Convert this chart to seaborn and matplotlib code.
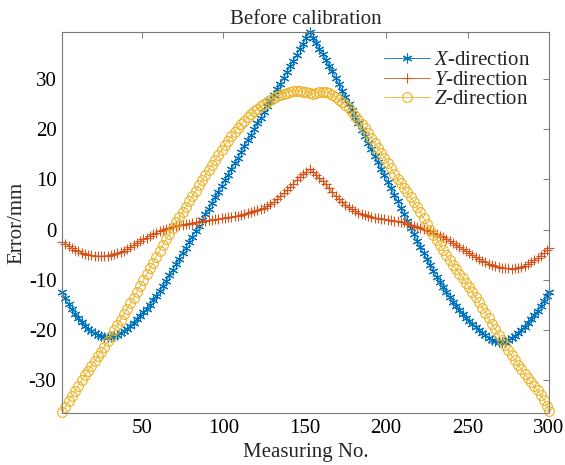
import numpy as np
import pandas as pd
import matplotlib
matplotlib.use("Agg")
import matplotlib.pyplot as plt
import seaborn as sns

# ---- data ----
measuring_no = np.append(np.arange(1, 300, 2), 300)

x_error = [
    -12.5, -13.7, -14.9, -15.9, -16.9, -17.7, -18.5, -19.2, -19.8, -20.3,
    -20.7, -21.0, -21.2, -21.35, -21.4, -21.35, -21.2, -21.0, -20.7, -20.3,
    -19.8, -19.2, -18.6, -17.9, -17.2, -16.5, -15.8, -15.0, -14.1, -13.2,
    -12.2, -11.2, -10.2, -9.1, -8.0, -6.9, -5.8, -4.7, -3.6, -2.5,
    -1.4, -0.3, 0.8, 1.9, 3.0, 4.1, 5.2, 6.4, 7.5, 8.7,
    9.8, 10.9, 12.1, 13.2, 14.3, 15.5, 16.6, 17.8, 18.9, 20.0,
    21.2, 22.3, 23.4, 24.6, 25.7, 26.9, 28.0, 29.1, 30.3, 31.4,
    32.6, 33.7, 34.8, 36.0, 37.1, 38.3, 39.4, 38.3, 37.2, 36.1,
    35.0, 33.9, 32.7, 31.6, 30.3, 29.0, 27.7, 26.4, 25.1, 23.8,
    22.5, 21.2, 19.9, 18.6, 17.3, 16.0, 14.7, 13.4, 12.1, 10.8,
    9.5, 8.2, 6.9, 5.6, 4.3, 3.0, 1.7, 0.4, -0.9, -2.2,
    -3.5, -4.7, -5.9, -7.1, -8.3, -9.4, -10.5, -11.5, -12.5, -13.5,
    -14.4, -15.3, -16.1, -16.9, -17.6, -18.3, -18.9, -19.5, -20.1, -20.6,
    -21.1, -21.6, -22.0, -22.3, -22.5, -22.5, -22.4, -22.1, -21.7, -21.2,
    -20.6, -20.0, -19.4, -18.7, -17.9, -17.1, -16.2, -15.3, -14.3, -13.2,
    -12.5,
]

y_error = [
    -2.4, -2.8, -3.2, -3.6, -4.0, -4.3, -4.6, -4.8, -5.0, -5.15,
    -5.25, -5.3, -5.3, -5.25, -5.2, -5.1, -4.9, -4.7, -4.5, -4.2,
    -3.9, -3.5, -3.1, -2.7, -2.3, -1.9, -1.6, -1.2, -0.9, -0.6,
    -0.3, 0.0, 0.2, 0.4, 0.6, 0.8, 0.9, 1.0, 1.1, 1.2,
    1.3, 1.4, 1.5, 1.6, 1.7, 1.8, 1.9, 2.0, 2.1, 2.2,
    2.3, 2.4, 2.5, 2.6, 2.7, 2.8, 3.0, 3.2, 3.4, 3.6,
    3.8, 4.0, 4.3, 4.6, 5.0, 5.5, 6.0, 6.6, 7.2, 7.8,
    8.5, 9.1, 9.8, 10.4, 11.0, 11.5, 12.0, 11.5, 10.9, 10.2,
    9.6, 9.0, 8.2, 7.4, 6.7, 6.0, 5.4, 4.9, 4.4, 4.0,
    3.6, 3.3, 3.0, 2.8, 2.6, 2.4, 2.3, 2.2, 2.1, 2.0,
    1.9, 1.8, 1.7, 1.6, 1.5, 1.4, 1.2, 0.9, 0.7, 0.5,
    0.3, 0.1, -0.1, -0.3, -0.6, -0.9, -1.2, -1.5, -1.9, -2.3,
    -2.7, -3.1, -3.5, -3.9, -4.3, -4.7, -5.1, -5.5, -5.9, -6.2,
    -6.5, -6.8, -7.1, -7.3, -7.5, -7.6, -7.7, -7.75, -7.8, -7.75,
    -7.6, -7.4, -7.2, -6.9, -6.5, -6.1, -5.7, -5.2, -4.7, -4.0,
    -3.6,
]

z_error = [
    -36.4, -35.4, -34.3, -33.3, -32.2, -31.2, -30.1, -29.1, -28.2, -27.2,
    -26.3, -25.3, -24.4, -23.4, -22.3, -21.2, -20.1, -19.1, -18.0, -16.9,
    -15.8, -14.7, -13.6, -12.4, -11.3, -10.1, -8.9, -7.7, -6.6, -5.4,
    -4.2, -3.1, -1.9, -0.8, 0.3, 1.4, 2.4, 3.5, 4.5, 5.6,
    6.6, 7.7, 8.8, 9.8, 10.8, 11.8, 12.8, 13.8, 14.8, 15.8,
    16.8, 17.7, 18.6, 19.5, 20.3, 21.0, 21.7, 22.4, 23.0, 23.6,
    24.1, 24.6, 25.0, 25.5, 25.9, 26.3, 26.6, 26.9, 27.1, 27.3,
    27.5, 27.6, 27.6, 27.6, 27.5, 27.4, 27.2, 27.1, 27.2, 27.4,
    27.5, 27.4, 27.2, 26.9, 26.4, 25.9, 25.4, 24.9, 24.2, 23.4,
    22.7, 21.9, 21.0, 20.2, 19.3, 18.3, 17.3, 16.3, 15.3, 14.3,
    13.3, 12.2, 11.1, 10.1, 9.2, 8.3, 7.4, 6.5, 5.5, 4.5,
    3.4, 2.3, 1.1, 0.0, -1.0, -2.0, -3.0, -4.1, -5.1, -6.0,
    -7.0, -7.9, -8.8, -9.7, -10.6, -11.5, -12.5, -13.5, -14.5, -15.6,
    -16.6, -17.7, -18.8, -19.9, -21.0, -22.1, -23.1, -24.1, -25.1, -26.0,
    -27.0, -27.9, -28.8, -29.7, -30.5, -31.3, -32.1, -33.0, -34.0, -35.3,
    -36.2,
]

series_labels = [r"$\mathit{X}$-direction", r"$\mathit{Y}$-direction", r"$\mathit{Z}$-direction"]
series_colors = ["#0072BD", "#D95319", "#EDB120"]
series_markers = [(6, 2, 0), "+", "o"]

x_ticks = [50, 100, 150, 200, 250, 300]
y_ticks = [-30, -20, -10, 0, 10, 20, 30]

# ---- style ----
sns.set_theme(style="white")
plt.rcParams["font.family"] = ["Liberation Serif", "DejaVu Serif"]
plt.rcParams["mathtext.fontset"] = "custom"
plt.rcParams["mathtext.rm"] = "Liberation Serif"
plt.rcParams["mathtext.it"] = "Liberation Serif:italic"
plt.rcParams["axes.unicode_minus"] = False

fig = plt.figure(figsize=(5.65, 4.65), dpi=100)
ax = fig.add_axes([62 / 565, 1 - 413 / 465, (549 - 62) / 565, (413 - 32) / 465])

df = pd.DataFrame({
    "Measuring No.": np.tile(measuring_no, 3),
    "Error": np.concatenate([x_error, y_error, z_error]),
    "Series": np.repeat(series_labels, len(measuring_no)),
})

for label, color, marker in zip(series_labels, series_colors, series_markers):
    sub = df[df["Series"] == label]
    sns.lineplot(
        data=sub, x="Measuring No.", y="Error", ax=ax,
        color=color, marker=marker, markersize=7,
        markeredgewidth=0.8, markeredgecolor=color, markerfacecolor="none",
        linewidth=0.6, label=label, clip_on=False, legend=False,
        estimator=None, sort=False,
    )

ax.set_xlim(1, 300)
ax.set_ylim(-36.6, 39.4)
ax.set_xticks(x_ticks)
ax.set_yticks(y_ticks)
ax.set_xlabel("Measuring No.", fontsize=15, labelpad=4)
ax.set_ylabel("Error/mm", fontsize=15, labelpad=2)
ax.set_title("Before calibration", fontsize=15, pad=6)

for s in ax.spines.values():
    s.set_visible(True)
    s.set_color("#7a7a7a")
    s.set_linewidth(0.8)
ax.tick_params(direction="in", top=True, right=True, length=4, width=0.7,
               color="#7a7a7a", labelsize=15, labelcolor="black", pad=4)

handles, labels = ax.get_legend_handles_labels()
ax.legend(handles, labels, loc="upper right", frameon=False, fontsize=15,
          handlelength=2.2, handletextpad=0.2, labelspacing=0.0,
          borderaxespad=0.5, bbox_to_anchor=(1.0, 1.0))

fig.savefig("out.png", dpi=100)
